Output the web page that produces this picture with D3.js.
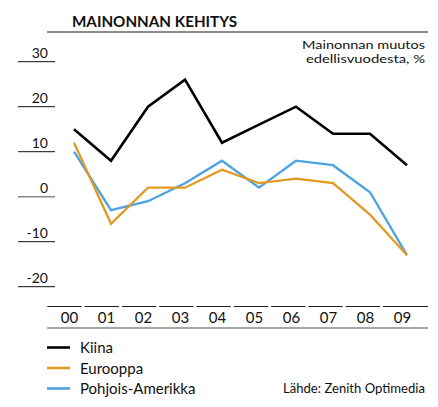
<!DOCTYPE html>
<html>
<head>
<meta charset="utf-8">
<script src="https://cdn.jsdelivr.net/npm/d3@7"></script>
<style>
  body { margin: 0; background: #fff; }
  svg text { font-family: Lato, "Open Sans", sans-serif; fill: #111; }
</style>
</head>
<body>
<div id="chart"></div>
<script>
// data
let years = ["00", "01", "02", "03", "04", "05", "06", "07", "08", "09"];
let kiina = [15, 8, 20, 26, 12, 16, 20, 14, 14, 7];
let eurooppa = [12, -6, 2, 2, 6, 3, 4, 3, -4, -13];
let pohjoisAmerikka = [10, -3, -1, 3, 8, 2, 8, 7, 1, -13];
let yTicks = [30, 20, 10, 0, -10, -20];

let seriesNames = ["Kiina", "Eurooppa", "Pohjois-Amerikka"];
let seriesColors = ["#000000", "#e29a22", "#4ba3e0"];
let seriesWidths = [2.6, 2.3, 2.3];

let w = 438;
let h = 407;

let svg = d3.select("#chart").append("svg")
  .attr("width", w)
  .attr("height", h);

let x = d3.scalePoint().domain(years).range([74, 407]);
let xBand = d3.scaleBand().domain(years).range([47.3, 417.3]).paddingInner(0.08).paddingOuter(0);
let y = d3.scaleLinear().domain([0, 10]).range([196.7, 151.7]);

// title + rule
svg.append("text")
  .attr("x", 72)
  .attr("y", 27)
  .attr("font-size", 15.5)
  .attr("font-weight", "bold")
  .attr("textLength", 165)
  .attr("lengthAdjust", "spacingAndGlyphs")
  .text("MAINONNAN KEHITYS");

svg.append("line")
  .attr("x1", 47).attr("x2", 428)
  .attr("y1", 32).attr("y2", 32)
  .attr("stroke", "#666")
  .attr("stroke-width", 1.4);

// unit text, two tight lines
svg.append("text")
  .attr("x", 425).attr("y", 49)
  .attr("text-anchor", "end")
  .attr("font-size", 11.5)
  .attr("textLength", 123)
  .attr("lengthAdjust", "spacingAndGlyphs")
  .text("Mainonnan muutos");
svg.append("text")
  .attr("x", 425).attr("y", 63)
  .attr("text-anchor", "end")
  .attr("font-size", 11.5)
  .attr("textLength", 119)
  .attr("lengthAdjust", "spacingAndGlyphs")
  .text("edellisvuodesta, %");

// y ticks
let yt = svg.selectAll(".ytick").data(yTicks).enter()
  .append("g")
  .attr("class", "ytick");

yt.append("line")
  .attr("x1", 18).attr("x2", 55)
  .attr("y1", d => y(d)).attr("y2", d => y(d))
  .attr("stroke", d => d == 0 ? "#888" : "#111")
  .attr("stroke-width", d => d == 0 ? 1.6 : 1);

yt.append("text")
  .attr("x", 48)
  .attr("y", d => y(d) - 4)
  .attr("text-anchor", "end")
  .attr("font-size", 14)
  .text(d => d);

// x axis segments
svg.selectAll(".xseg").data(years).enter()
  .append("line")
  .attr("class", "xseg")
  .attr("x1", d => xBand(d))
  .attr("x2", (d, i) => i == years.length - 1 ? 428 : xBand(d) + xBand.bandwidth())
  .attr("y1", 306.5).attr("y2", 306.5)
  .attr("stroke", "#222")
  .attr("stroke-width", 1);

svg.append("line")
  .attr("x1", 47).attr("x2", 428)
  .attr("y1", 328).attr("y2", 328)
  .attr("stroke", "#888")
  .attr("stroke-width", 1.6);

svg.selectAll(".xlab").data(years).enter()
  .append("text")
  .attr("class", "xlab")
  .attr("x", d => x(d) - 4.5)
  .attr("y", 323)
  .attr("text-anchor", "middle")
  .attr("font-size", 15)
  .text(d => d);

// lines
let allSeries = [kiina, eurooppa, pohjoisAmerikka];
let line = d3.line()
  .x((d, i) => x(years[i]))
  .y(d => y(d));

let drawOrder = [2, 1, 0];
drawOrder.forEach(function(k){
  svg.append("path")
    .datum(allSeries[k])
    .attr("d", line)
    .attr("fill", "none")
    .attr("stroke", seriesColors[k])
    .attr("stroke-width", seriesWidths[k])
    .attr("stroke-linejoin", "miter");
});

// legend
let leg = svg.selectAll(".leg").data(seriesNames).enter()
  .append("g")
  .attr("class", "leg")
  .attr("transform", (d, i) => "translate(0," + (347.5 + i * 20.5) + ")");

leg.append("line")
  .attr("x1", 47).attr("x2", 70)
  .attr("stroke", (d, i) => seriesColors[i])
  .attr("stroke-width", 2.6);

leg.append("text")
  .attr("x", 80)
  .attr("y", 5.5)
  .attr("font-size", 15)
  .text(d => d);

svg.append("text")
  .attr("x", 425)
  .attr("y", 393)
  .attr("text-anchor", "end")
  .attr("font-size", 12.5)
  .attr("textLength", 142)
  .attr("lengthAdjust", "spacingAndGlyphs")
  .text("Lähde: Zenith Optimedia");
</script>
</body>
</html>
